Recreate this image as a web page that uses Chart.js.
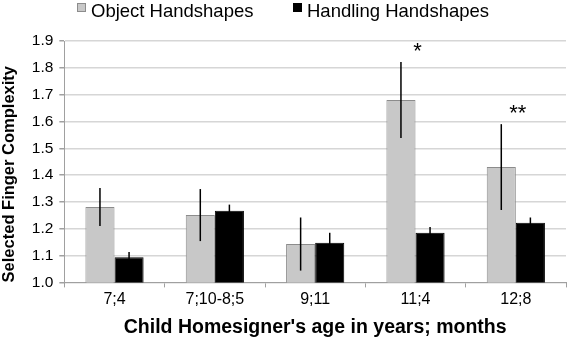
<!DOCTYPE html>
<html><head><meta charset="utf-8">
<script src="https://cdn.jsdelivr.net/npm/chart.js@4/dist/chart.umd.min.js"></script>
<style>html,body{margin:0;padding:0;background:#fff}#wrap{width:567px;height:344px}</style>
</head><body><div id="wrap"><canvas id="c" width="567" height="344"></canvas></div>
<script>
const categories = ["7;4", "7;10-8;5", "9;11", "11;4", "12;8"];
const seriesNames = ["Object Handshapes", "Handling Handshapes"];
const objectValues = [1.281, 1.251, 1.143, 1.68, 1.43];
const objectErr = [0.071, 0.097, 0.099, 0.142, 0.16];
const handlingValues = [1.094, 1.267, 1.148, 1.185, 1.222];
const handlingErr = [0.019, 0.023, 0.037, 0.022, 0.02];
const starLabels = ["", "", "", "*", "**"];
const starValues = [null, null, null, 1.869, 1.64];
const yTicks = [1.0, 1.1, 1.2, 1.3, 1.4, 1.5, 1.6, 1.7, 1.8, 1.9];

const FONT = '"Liberation Sans", Arial, Helvetica, sans-serif';

const extrasPlugin = {
  id: 'extras',
  afterDatasetsDraw(chart) {
    const ctx = chart.ctx, y = chart.scales.y, x = chart.scales.x;
    const errs = [objectErr, handlingErr];
    chart.data.datasets.forEach((ds, di) => {
      const meta = chart.getDatasetMeta(di);
      meta.data.forEach((bar, i) => {
        const v = ds.data[i], e = errs[di][i];
        ctx.save();
        ctx.strokeStyle = '#000';
        ctx.lineWidth = 1.5;
        ctx.beginPath();
        ctx.moveTo(bar.x, y.getPixelForValue(v + e));
        ctx.lineTo(bar.x, y.getPixelForValue(v - e));
        ctx.stroke();
        ctx.restore();
      });
    });
    ctx.save();
    ctx.fillStyle = '#000';
    ctx.font = '22px ' + FONT;
    ctx.textAlign = 'center';
    ctx.textBaseline = 'middle';
    starLabels.forEach((s, i) => {
      if (!s) return;
      ctx.fillText(s, x.getPixelForValue(i) + 2, y.getPixelForValue(starValues[i]) + 3);
    });
    ctx.restore();
  },
  afterDraw(chart) {
    const ctx = chart.ctx;
    const items = [{ bx: 77, tx: 91 }, { bx: 293, tx: 307 }];
    ctx.save();
    ctx.font = '18.5px ' + FONT;
    ctx.textBaseline = 'middle';
    ctx.textAlign = 'left';
    chart.data.datasets.forEach((ds, i) => {
      const it = items[i];
      ctx.fillStyle = ds.backgroundColor;
      ctx.fillRect(it.bx, 3, 9, 9);
      ctx.strokeStyle = ds.borderColor;
      ctx.lineWidth = 1;
      ctx.strokeRect(it.bx + 0.5, 3.5, 8, 8);
      ctx.fillStyle = '#000';
      ctx.fillText(ds.label, it.tx, 12);
    });
    ctx.restore();
  }
};

new Chart(document.getElementById('c'), {
  type: 'bar',
  data: {
    labels: categories,
    datasets: [
      { label: seriesNames[0], data: objectValues, backgroundColor: '#c8c8c8', borderColor: '#8c8c8c', borderWidth: 1, categoryPercentage: 0.58, barPercentage: 1 },
      { label: seriesNames[1], data: handlingValues, backgroundColor: '#000000', borderColor: '#000000', borderWidth: 1, categoryPercentage: 0.58, barPercentage: 1 }
    ]
  },
  options: {
    responsive: false,
    animation: false,
    layout: { padding: { top: 41, right: 1, left: 0, bottom: 5 } },
    plugins: {
      tooltip: { enabled: false },
      legend: { display: false }
    },
    scales: {
      x: {
        grid: { display: true, drawOnChartArea: false, offset: true, tickLength: 5, color: '#a0a0a0' },
        border: { color: '#a0a0a0' },
        ticks: { color: '#000', font: { family: FONT, size: 16 }, padding: 3 },
        title: { display: true, text: "Child Homesigner's age in years; months", color: '#000', font: { family: FONT, size: 19.5, weight: 'bold' }, padding: { top: 3, bottom: 0 } }
      },
      y: {
        min: 1.0, max: 1.9,
        afterBuildTicks(s) { s.ticks = yTicks.map(v => ({ value: v })); },
        grid: { color: '#d6d6d6', lineWidth: 1.5, tickLength: 5, tickColor: '#a0a0a0' },
        border: { color: '#a0a0a0' },
        ticks: { color: '#000', font: { family: FONT, size: 15.5 }, padding: 6, callback: v => Number(v).toFixed(1) },
        title: { display: true, align: 'start', text: 'Selected Finger Complexity', color: '#000', font: { family: FONT, size: 16.5, weight: 'bold' }, padding: { top: 0, bottom: 6 } }
      }
    }
  },
  plugins: [extrasPlugin]
});
</script>
</body></html>
